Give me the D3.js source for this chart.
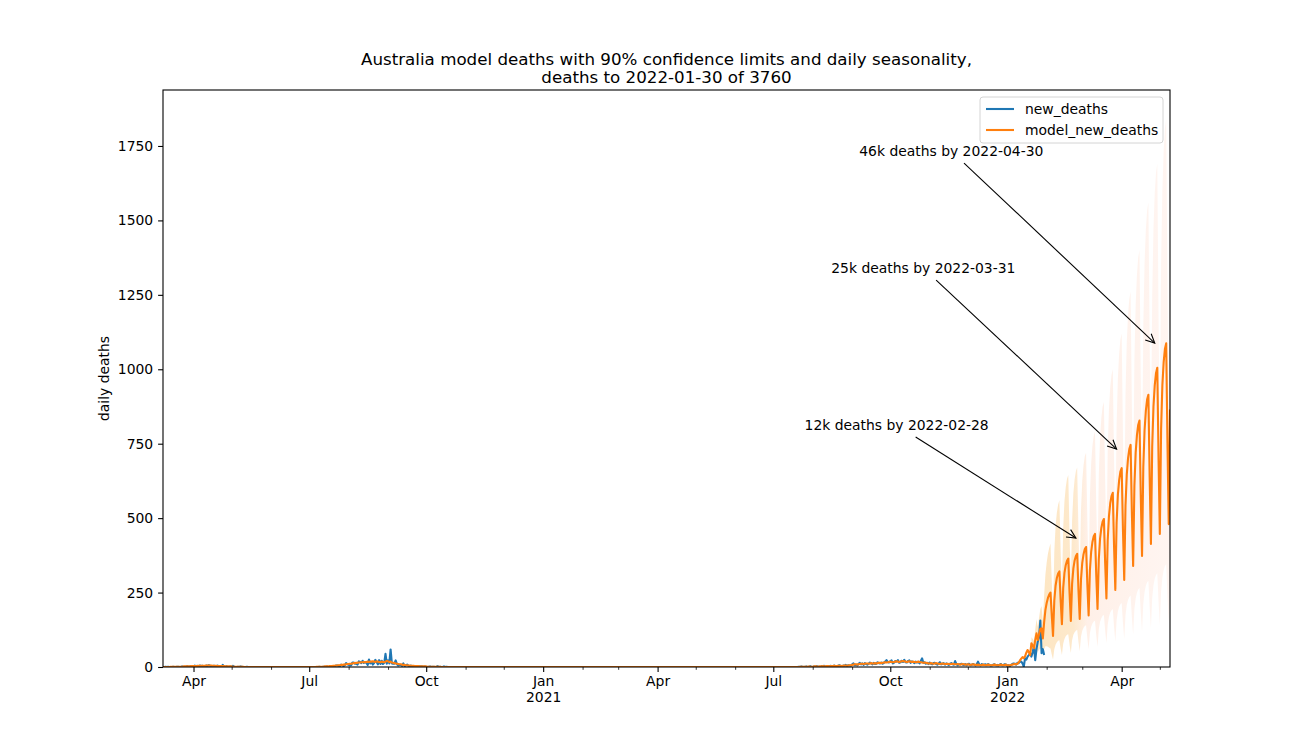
<!DOCTYPE html>
<html>
<head>
<meta charset="utf-8">
<script src="https://cdn.jsdelivr.net/npm/d3@7"></script>
<style>
  body { margin: 0; background: #fff; }
  text { font-family: "DejaVu Sans", sans-serif; }
</style>
</head>
<body>
<svg id="chart" width="1300" height="750"></svg>
<script>
// ---- data ----
var titleLines = ['Australia model deaths with 90% confidence limits and daily seasonality,', 'deaths to 2022-01-30 of 3760'];
var yLabel = 'daily deaths';
var seriesNames = ['new_deaths', 'model_new_deaths'];
var xDomain = ['2020-03-08', '2022-05-09'];
var deathsEnd = '2022-01-30';
var yMax = 1938;
var yTicks = [0, 250, 500, 750, 1000, 1250, 1500, 1750];

// first wave, 2020
var wave1Start = '2020-03-08';
var wave1Deaths = [0,0,1,0,1,0,0,0,1,0, 0,1,1,0,0,2,0,1,1,3, 1,2,3,2,1,5,2,4,1,5, 3,4,2,1,5,3,6,4,2,3,
  4,3,2,5,2,3,1,7,2,1, 3,0,1,2,0,4,1,0,0,1, 0,2,1,0,0,0,1,0,0,0];
var wave1Model = [0,0,0,0,0,0,1,1,1,1, 1,1,1,1,1,1,2,2,2,2, 2,2,3,3,3,3,3,3,4,4, 4,4,4,4,5,5,5,5,5,4,
  4,4,4,3,3,3,3,3,3,2, 2,2,2,2,2,1,1,1,1,1, 1,1,1,1,0,0,0,0,0,0];

// second wave, Jul - Oct 2020
var wave2Start = '2020-07-01';
var wave2Deaths = [0,0,0,0,0,0,0,0,1,0, 0,1,1,0,2,0,1,3,2,1, 2,5,5,4,2,8,6,3,6,13,9,
  7,5,6,15,15,11,12,8,19,17, 13,21,14,16,14,7,25,12,17,8, 13,24,17,9,23,10,21,10,14,44,11,
  22,12,59,12,11,11,22,9,5,7, 7,4,12,3,5,8,4,2,5,2, 3,1,3,2,3,2,2,2,1,2,
  1,0,1,2,0,1,1,0,1,3, 0,1,0,0,2,0,1,0];
var wave2Model = [0,0,0,0,0,0,1,1,1,1, 1,1,2,2,2,2,3,3,3,4, 4,5,5,6,6,7,7,8,8,9,10,
  10,11,11,12,13,13,14,14,15,15, 16,16,17,16,17,18,17,18,18,19, 18,17,19,18,17,16,18,17,16,18,20,
  19,17,18,15,14,13,12,11,10,9, 9,8,7,7,6,6,5,5,4,4, 4,3,3,3,3,2,2,2,2,2,
  2,1,1,1,1,1,1,1,1,1, 1,1,0,0,0,0,0,0];

// third wave, Jul 2021 - Jan 2022
var wave3Start = '2021-07-20';
var wave3Deaths = [0,1,0,2,1,0,1,2,0,1,3,1,
  0,2,1,3,2,1,0,3,2,4, 1,2,3,1,4,2,3,5,2,1, 4,6,3,2,5,4,7,3,6,5, 4,
  9,12,6,8,5,10,14,9,12,7, 13,10,8,11,15,12,9,14,10,11, 16,13,12,15,11,14,18,23,17,15,
  19,22,12,15,20,18,23,14,16,21, 17,24,16,15,20,22,14,19,16,13, 18,15,17,12,20,29,14,16,11,14, 10,
  15,11,9,13,14,10,8,12,16,9, 11,13,8,12,10,7,11,13,9,8, 20,10,6,9,9,11,8,7,10,6,
  9,11,6,7,10,8,5,9,18,8, 6,10,7,8,9,6,10,7,5,6, 8,9,6,7,5,8,10,6,7,9, 8,
  4,6,3,7,10,12,11,8,14,13, 18,18,12,1,29,25,35,40,46,
  35,50,68,23,60,85,100,156,46,60,40];
var wave3Model = [0,0,1,1,1,1,1,1,1,2,1,1,
  1,2,2,2,1,2,2,2,3,2, 2,3,3,2,3,3,3,4,3,3, 4,4,4,3,4,5,5,4,5,6, 6,
  7,8,9,9,8,9,10,11,11,10, 11,12,12,11,12,13,12,12,13,12, 13,14,14,13,14,15,16,15,16,17,
  18,17,16,17,18,19,18,17,18,19, 20,19,18,17,18,19,18,17,18,17, 16,17,18,17,16,15,14,15,14,13, 12,
  12,13,12,11,12,13,12,11,10,11, 12,11,10,10,11,10,9,10,11,10, 9,9,10,9,8,9,10,9,8,8,
  9,8,7,8,9,8,7,7,8,7, 6,7,8,7,6,7,8,7,6,6, 7,8,7,6,6,7,8,7,6,7, 8,
  5,6,5,7,8,9,10,9,11,15, 22,28,33,30,36,48,57,50,40];

// model with confidence limits, 2022-01-20 .. 2022-05-09
var bandStart = '2022-01-20';
var lateModel = [80,72,63,90,113,91,110,128,130,96,150,191,
  215,232,243,250,175,104,223,273,299,314,321,224,144,265,316,342,357,364,249,155,279,331,358,373,380,260,161,294,
  350,379,396,403,277,173,324,387,420,439,447,308,195,361,431,467,488,497,350,230,425,507,550,574,585,406,259,484,578,627,656,
  668,461,292,542,646,701,732,746,522,339,608,720,779,813,828,578,373,671,795,860,898,914,638,413,739,875,946,987,1005,698,
  447,799,946,1023,1068,1087,753,480,865];
var bandUpper = [100,95,88,125,160,135,165,195,205,150,240,310,
  350,380,400,415,290,170,385,472,518,545,560,390,250,467,557,604,632,645,440,274,492,583,631,658,670,460,285,525,
  625,677,708,720,495,309,573,684,742,776,790,545,345,646,771,836,874,890,626,412,727,867,940,981,1000,694,443,811,969,1051,1100,
  1120,773,490,915,1091,1184,1236,1260,882,573,1028,1217,1317,1375,1400,977,631,1145,1357,1468,1533,1560,1089,705,1243,1471,1591,1660,1690,1174,
  752,1353,1601,1732,1808,1840,1275,813,1464];
var bandLower = [55,50,42,55,65,50,58,62,60,42,60,70,
  70,68,65,62,42,25,60,75,83,88,90,62,40,78,94,103,108,110,75,47,90,108,117,122,125,85,53,102,
  122,132,138,140,96,60,113,135,146,153,155,107,68,127,152,164,172,175,123,81,142,169,183,191,195,135,86,156,186,202,211,
  215,148,94,174,208,225,235,240,168,109,195,230,249,260,265,185,119,213,252,273,285,290,202,131,232,274,297,309,315,219,
  140,254,300,325,339,345,239,152,275];

// band colour along time
var bandColorStops = [
  ['2022-01-20', 'rgb(253,229,192)'],
  ['2022-02-22', 'rgb(253,233,204)'],
  ['2022-03-05', 'rgb(255,240,232)'],
  ['2022-05-09', 'rgb(255,245,241)']
];

var annotations = [
  { label: '46k deaths by 2022-04-30', at: ['2022-04-27', 1088], textAt: ['2021-11-18', 1733] },
  { label: '25k deaths by 2022-03-31', at: ['2022-03-28', 732], textAt: ['2021-10-27', 1340] },
  { label: '12k deaths by 2022-02-28', at: ['2022-02-24', 433], textAt: ['2021-10-06', 813] }
];

var colors = ['#1f77b4', '#ff7f0e'];

// ---- layout ----
var margin = { left: 163, right: 130, top: 90, bottom: 83 };
var W = 1300, H = 750;
var parse = d3.utcParse('%Y-%m-%d');

function daily(start, end, segments) {
  var vals = new Map();
  segments.forEach(function (seg) {
    var d0 = parse(seg[0]);
    seg[1].forEach(function (v, i) { vals.set(+d3.utcDay.offset(d0, i), v); });
  });
  return d3.utcDays(parse(start), d3.utcDay.offset(parse(end), 1)).map(function (d) {
    return { date: d, value: vals.has(+d) ? vals.get(+d) : 0 };
  });
}

var deaths = daily(xDomain[0], deathsEnd, [[wave1Start, wave1Deaths], [wave2Start, wave2Deaths], [wave3Start, wave3Deaths]]);
var model = daily(xDomain[0], xDomain[1], [[wave1Start, wave1Model], [wave2Start, wave2Model], [wave3Start, wave3Model], [bandStart, lateModel]]);
var band = bandUpper.map(function (u, i) {
  return { date: d3.utcDay.offset(parse(bandStart), i), hi: u, lo: bandLower[i] };
});

var svg = d3.select('#chart');

var x = d3.scaleUtc()
  .domain([parse(xDomain[0]), parse(xDomain[1])])
  .range([margin.left, W - margin.right]);
var y = d3.scaleLinear()
  .domain([0, yMax])
  .range([H - margin.bottom, margin.top]);

var defs = svg.append('defs');
defs.append('clipPath').attr('id', 'plotclip')
  .append('rect')
  .attr('x', margin.left).attr('y', margin.top)
  .attr('width', W - margin.left - margin.right)
  .attr('height', H - margin.top - margin.bottom);

var gx0 = x(parse(bandColorStops[0][0])), gx1 = x(parse(bandColorStops[bandColorStops.length - 1][0]));
var grad = defs.append('linearGradient').attr('id', 'bandgrad')
  .attr('gradientUnits', 'userSpaceOnUse')
  .attr('x1', gx0).attr('x2', gx1).attr('y1', 0).attr('y2', 0);
bandColorStops.forEach(function (s) {
  grad.append('stop')
    .attr('offset', (x(parse(s[0])) - gx0) / (gx1 - gx0))
    .attr('stop-color', s[1]);
});

var plot = svg.append('g').attr('clip-path', 'url(#plotclip)');

// confidence band
var area = d3.area()
  .x(function (d) { return x(d.date); })
  .y0(function (d) { return y(d.lo); })
  .y1(function (d) { return y(d.hi); });
plot.append('path').datum(band)
  .attr('d', area)
  .attr('fill', 'url(#bandgrad)');

var line = d3.line()
  .x(function (d) { return x(d.date); })
  .y(function (d) { return y(d.value); });

plot.append('path').datum(deaths)
  .attr('d', line)
  .attr('fill', 'none')
  .attr('stroke', colors[0])
  .attr('stroke-width', 2.1)
  .attr('stroke-linejoin', 'round');

plot.append('path').datum(model)
  .attr('d', line)
  .attr('fill', 'none')
  .attr('stroke', colors[1])
  .attr('stroke-width', 2.1)
  .attr('stroke-linejoin', 'round');

// axes
var fontSize = '13.9px';
var xAxis = d3.axisBottom(x)
  .ticks(d3.utcMonth.filter(function (d) { return d.getUTCMonth() % 3 === 0; }))
  .tickSize(4.9)
  .tickPadding(4)
  .tickFormat(d3.utcFormat('%b'));
var gxa = svg.append('g')
  .attr('transform', 'translate(0,' + (H - margin.bottom) + ')')
  .call(xAxis);
gxa.select('.domain').remove();
gxa.selectAll('.tick line').attr('stroke', '#000').attr('stroke-width', 1.1);
gxa.selectAll('.tick text')
  .attr('fill', '#000')
  .style('font-size', fontSize)
  .each(function (d) {
    if (d.getUTCMonth() === 0) {
      d3.select(this).append('tspan')
        .attr('x', 0).attr('dy', '1.2em')
        .text(d.getUTCFullYear());
    }
  });

var xMinor = d3.axisBottom(x)
  .ticks(d3.utcMonth.filter(function (d) { return d.getUTCMonth() % 3 !== 0; }))
  .tickSize(2.8)
  .tickFormat('');
var gxm = svg.append('g')
  .attr('transform', 'translate(0,' + (H - margin.bottom) + ')')
  .call(xMinor);
gxm.select('.domain').remove();
gxm.selectAll('.tick line').attr('stroke', '#000').attr('stroke-width', 0.8);

var yAxis = d3.axisLeft(y).tickValues(yTicks).tickSize(4.9).tickPadding(4.9).tickFormat(d3.format('d'));
var gya = svg.append('g')
  .attr('transform', 'translate(' + margin.left + ',0)')
  .call(yAxis);
gya.select('.domain').remove();
gya.selectAll('.tick line').attr('stroke', '#000').attr('stroke-width', 1.1);
gya.selectAll('.tick text').attr('fill', '#000').style('font-size', fontSize);

// frame
svg.append('rect')
  .attr('x', margin.left).attr('y', margin.top)
  .attr('width', W - margin.left - margin.right)
  .attr('height', H - margin.top - margin.bottom)
  .attr('fill', 'none')
  .attr('stroke', '#000')
  .attr('stroke-width', 1.1);

// title and axis label
var cx = (margin.left + W - margin.right) / 2;
svg.append('g').selectAll('text').data(titleLines).enter()
  .append('text')
  .attr('x', cx)
  .attr('y', function (d, i) { return 59 + i * 18.5; })
  .attr('dy', '0.35em')
  .attr('text-anchor', 'middle')
  .style('font-size', '16.7px')
  .text(function (d) { return d; });

svg.append('text')
  .attr('transform', 'translate(104,' + ((margin.top + H - margin.bottom) / 2) + ') rotate(-90)')
  .attr('dy', '0.35em')
  .attr('text-anchor', 'middle')
  .style('font-size', fontSize)
  .text(yLabel);

// annotations
annotations.forEach(function (a) {
  var tx = x(parse(a.textAt[0])), ty = y(a.textAt[1]);
  var px = x(parse(a.at[0])), py = y(a.at[1]);
  var t = svg.append('text')
    .attr('x', tx).attr('y', ty)
    .attr('dy', '0.35em')
    .attr('text-anchor', 'middle')
    .style('font-size', fontSize)
    .text(a.label);
  var bw = t.node().getComputedTextLength() / 2 + 4, bh = 12;
  var dx = px - tx, dy = py - ty;
  var s = Math.min(Math.abs(bw / dx), Math.abs(bh / dy));
  var sx = tx + dx * s, sy = ty + dy * s;
  svg.append('line')
    .attr('x1', sx).attr('y1', sy).attr('x2', px).attr('y2', py)
    .attr('stroke', '#000').attr('stroke-width', 1.1);
  var ang = Math.atan2(py - sy, px - sx);
  var hl = 10, hw = 0.45;
  var p1 = [px - hl * Math.cos(ang - hw), py - hl * Math.sin(ang - hw)];
  var p2 = [px - hl * Math.cos(ang + hw), py - hl * Math.sin(ang + hw)];
  svg.append('path')
    .attr('d', 'M' + p1 + 'L' + px + ',' + py + 'L' + p2)
    .attr('fill', 'none')
    .attr('stroke', '#000')
    .attr('stroke-width', 1.1);
});

// legend
var lg = svg.append('g').attr('transform', 'translate(980,97)');
lg.append('rect')
  .attr('width', 183).attr('height', 46).attr('rx', 3)
  .attr('fill', 'rgba(255,255,255,0.8)')
  .attr('stroke', '#d4d4d4');
seriesNames.forEach(function (name, i) {
  var ly = 12 + i * 21;
  lg.append('line')
    .attr('x1', 6).attr('x2', 34).attr('y1', ly).attr('y2', ly)
    .attr('stroke', colors[i]).attr('stroke-width', 2.1);
  lg.append('text')
    .attr('x', 45).attr('y', ly)
    .attr('dy', '0.35em')
    .style('font-size', fontSize)
    .text(name);
});
</script>
</body>
</html>
